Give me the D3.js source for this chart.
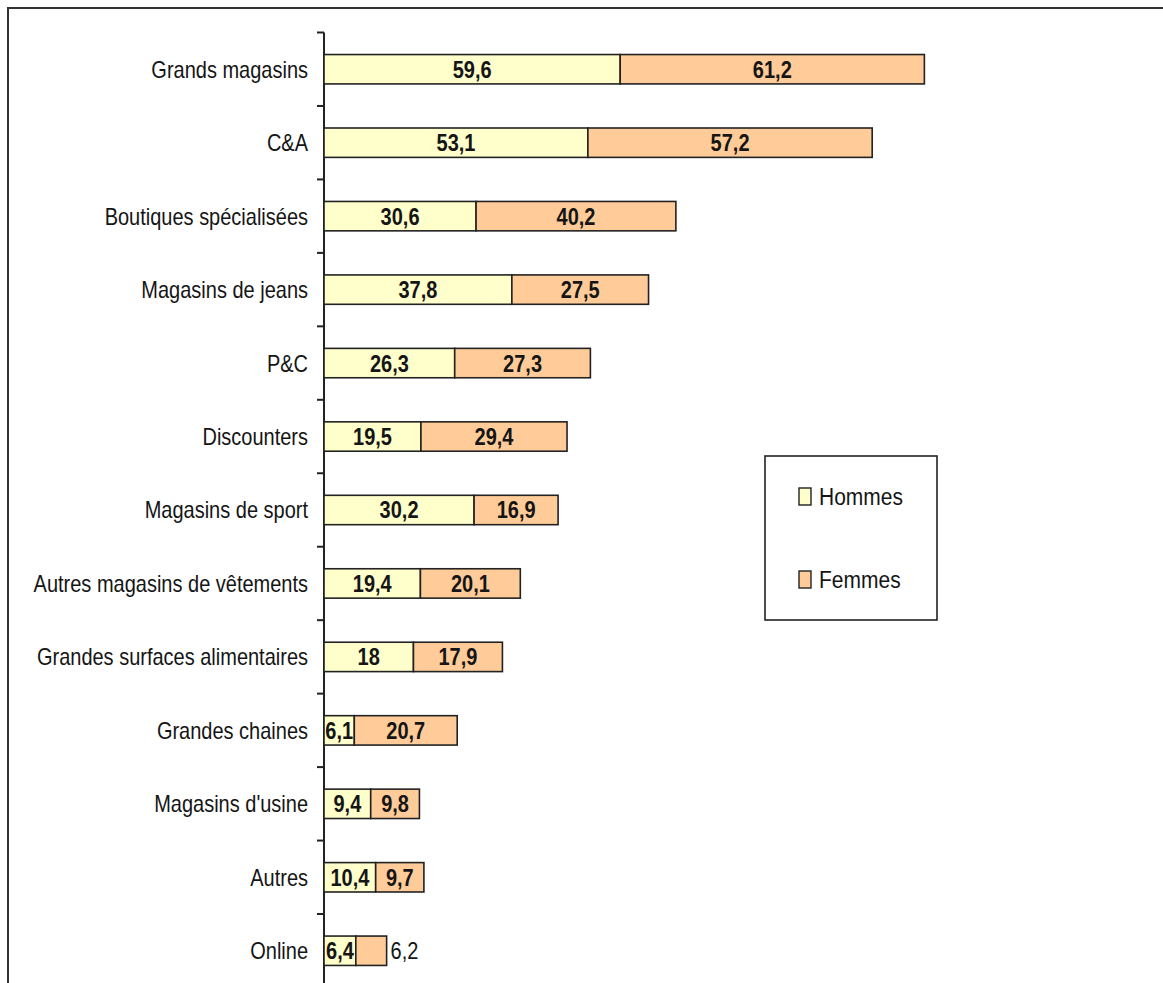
<!DOCTYPE html>
<html><head><meta charset="utf-8">
<script src="https://cdn.jsdelivr.net/npm/d3@7"></script>
<style>body{margin:0;background:#fff;}svg{display:block;}</style>
</head><body>
<script>
const categories = ["Grands magasins","C&A","Boutiques spécialisées","Magasins de jeans","P&C","Discounters","Magasins de sport","Autres magasins de vêtements","Grandes surfaces alimentaires","Grandes chaines","Magasins d'usine","Autres","Online"];
const hommes = [59.6,53.1,30.6,37.8,26.3,19.5,30.2,19.4,18,6.1,9.4,10.4,6.4];
const femmes = [61.2,57.2,40.2,27.5,27.3,29.4,16.9,20.1,17.9,20.7,9.8,9.7,6.2];
const seriesNames = ["Hommes","Femmes"];
const colors = ["#FFFFCC","#FFCC99"];

const W = 1163, H = 983;
const SY = 1.18;
const svg = d3.select("body").append("svg").attr("width", W).attr("height", H);

// frame
svg.append("rect").attr("x",8).attr("y",8).attr("width",W+20).attr("height",H+20)
  .attr("fill","none").attr("stroke","#333").attr("stroke-width",2);

const x0 = 324;
const x = d3.scaleLinear().domain([0,100]).range([x0, x0+497]);
const y = d3.scaleBand().domain(categories).range([32.5, 32.5+13*73.46]).paddingInner(0.6).paddingOuter(0.3);

const fmt = v => String(v).replace(".", ",");
function txt(g, xx, yy, s, size, anchor, weight) {
  return g.append("text").attr("transform", `translate(${xx},${yy}) scale(1,${SY})`)
    .attr("text-anchor", anchor).attr("font-family","'Liberation Sans', Arial, sans-serif")
    .attr("font-size", size).attr("font-weight", weight||"normal").attr("fill","#151515").text(s);
}

// axis line and ticks
const r = y.range();
svg.append("line").attr("x1",x0).attr("x2",x0).attr("y1",r[0]).attr("y2",H+10).attr("stroke","#222").attr("stroke-width",2);
d3.range(categories.length+1).forEach(i=>{
  const ty = r[0] + i*y.step();
  svg.append("line").attr("x1",x0-7).attr("x2",x0).attr("y1",ty).attr("y2",ty).attr("stroke","#222").attr("stroke-width",2);
});

// category labels
const gl = svg.append("g");
categories.forEach(c=>{
  txt(gl, x0-16, y(c)+y.bandwidth()/2+8.5, c, 20, "end");
});

// bars
const stack = categories.map((c,i)=>({c, h:hommes[i], f:femmes[i]}));
const gb = svg.append("g");
stack.forEach((d,i)=>{
  const yy = y(d.c), bh = y.bandwidth();
  gb.append("rect").attr("x",x(0)).attr("y",yy).attr("width",x(d.h)-x(0)).attr("height",bh)
    .attr("fill",colors[0]).attr("stroke","#222").attr("stroke-width",1.6);
  gb.append("rect").attr("x",x(d.h)).attr("y",yy).attr("width",x(d.h+d.f)-x(d.h)).attr("height",bh)
    .attr("fill",colors[1]).attr("stroke","#222").attr("stroke-width",1.6);
});
stack.forEach((d,i)=>{
  const cy = y(d.c)+y.bandwidth()/2+8.5;
  txt(gb, (x(0)+x(d.h))/2, cy, fmt(d.h), 20, "middle", "bold");
  const wF = x(d.h+d.f)-x(d.h);
  if (wF < 35) txt(gb, x(d.h+d.f)+4, cy, fmt(d.f), 20, "start", "normal");
  else txt(gb, (x(d.h)+x(d.h+d.f))/2, cy, fmt(d.f), 20, "middle", "bold");
});

// legend
const lg = svg.append("g");
lg.append("rect").attr("x",765).attr("y",456).attr("width",172).attr("height",164).attr("fill","#fff").attr("stroke","#222").attr("stroke-width",1.6);
seriesNames.forEach((s,i)=>{
  const sy = 488 + i*83;
  lg.append("rect").attr("x",799).attr("y",sy).attr("width",12).attr("height",17).attr("fill",colors[i]).attr("stroke","#222").attr("stroke-width",1.4);
  txt(lg, 819, sy+17, s, 21, "start");
});
</script>
</body></html>
